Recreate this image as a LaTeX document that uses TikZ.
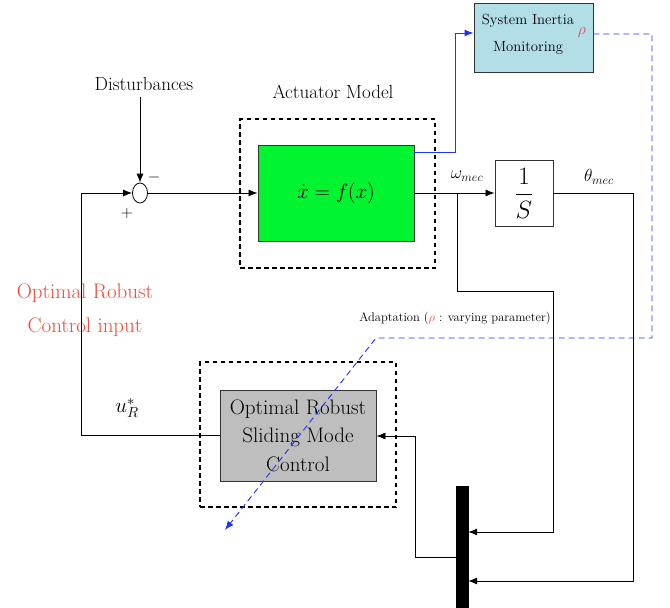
\RequirePackage{fix-cm}
\documentclass[tikz,border=0pt]{standalone}
\usetikzlibrary{arrows.meta,shapes.geometric}
\definecolor{actgreen}{RGB}{0,245,48}
\definecolor{monblue}{RGB}{178,222,232}
\definecolor{smcgray}{RGB}{190,190,190}
\definecolor{linkblue}{RGB}{30,50,255}
\definecolor{redtxt}{RGB}{240,74,58}
\tikzset{
  arr/.style={-{Latex[length=9pt,width=7pt]}, line width=0.8pt},
  blockbox/.style={draw=black!80, line width=0.9pt, inner sep=0pt, align=center},
  dashframe/.style={draw, line width=2.2pt, dash pattern=on 4.5pt off 3.5pt},
  bluelink/.style={draw=linkblue, line width=0.9pt},
  bluedash/.style={draw=linkblue, line width=0.9pt, dash pattern=on 6pt off 4pt},
  lbl/.style={inner sep=0pt, align=center}
}
\begin{document}
\begin{tikzpicture}[x=1pt,y=-1pt]
\useasboundingbox (0,0) rectangle (670,608);
% frames
\node[dashframe, minimum width=195pt, minimum height=149pt] (actframe) at (337.5,193.5) {};
\node[dashframe, minimum width=196pt, minimum height=145pt] (smcframe) at (298,434.5) {};
% blocks
\node[blockbox, fill=actgreen, minimum width=156pt, minimum height=96pt, font=\fontsize{21}{24}\selectfont] (act) at (336,193) {$\dot{x} = f(x)$};
\node[blockbox, fill=white, minimum width=58pt, minimum height=66pt, font=\fontsize{25}{28}\selectfont] (integ) at (524,193) {$\displaystyle\frac{1}{S}$};
\node[blockbox, fill=monblue, minimum width=119pt, minimum height=69pt] (sim) at (533.5,37.5) {};
\node[lbl, font=\fontsize{14.7}{16}\selectfont] (simtxt1) at (528,21) {System Inertia};
\node[lbl, font=\fontsize{14.7}{16}\selectfont] (simtxt2) at (528,48) {Monitoring};
\node[lbl, text=redtxt, font=\fontsize{16}{18}\selectfont] (rho) at (582,33) {$\rho$};
\node[blockbox, fill=smcgray, minimum width=156pt, minimum height=91pt, font=\fontsize{21}{28.5}\selectfont] (smc) at (298,435.5) {Optimal Robust\\Sliding Mode\\Control};
\node[draw, fill=black, minimum width=12pt, minimum height=122pt, inner sep=0pt] (bar) at (462,547) {};
\node[ellipse, draw, line width=0.8pt, minimum width=15pt, minimum height=20pt, inner sep=0pt] (sum) at (140,193) {};
% labels
\node[lbl, font=\fontsize{19}{21}\selectfont] (dist) at (144,84) {Disturbances};
\node[lbl, font=\fontsize{19}{21}\selectfont] (actlbl) at (333,92) {Actuator Model};
\node[lbl, font=\fontsize{16}{18}\selectfont] (minus) at (154,177) {$-$};
\node[lbl, font=\fontsize{16}{18}\selectfont] (plus) at (127,213) {$+$};
\node[lbl, font=\fontsize{17.5}{19}\selectfont] (omega) at (467,176) {$\omega_{mec}$};
\node[lbl, font=\fontsize{17.5}{19}\selectfont] (theta) at (599,177) {$\theta_{mec}$};
\node[lbl, font=\fontsize{21}{23}\selectfont] (ur) at (127,408) {$u_R^{*}$};
\node[lbl, text=redtxt, font=\fontsize{21}{34}\selectfont] (orci) at (85,310) {Optimal Robust\\Control input};
\node[lbl, font=\fontsize{12.5}{14}\selectfont] (adapt) at (455,318) {Adaptation (\textcolor{redtxt}{$\rho$} : varying parameter)};
% coordinates
\coordinate (branch) at (457,193);
\coordinate (bluestart) at (414,152);
\coordinate (dashend) at (225,530);
% connectors
\draw[arr] (sum |- dist.south) ++(0,6) -- (sum.north);
\draw[arr] (sum.east) -- (act.west);
\draw[arr] (act.east) -- (integ.west);
\draw[arr] (branch) -- (457,291) -| (553,532) -- (bar.east |- 0,532);
\draw[arr] (integ.east) -| (633,581) -- (bar.east |- 0,581);
\draw[arr] (bar.west |- 0,557) -| (415,436) -- (smc.east |- 0,436);
\draw[arr] (smc.west) -| (81,193) -- (sum.west);
\draw[bluelink, -{Latex[length=9pt,width=7pt]}] (bluestart) -| (455,33) -- (sim.west |- 0,33);
\draw[bluedash, -{Latex[length=9pt,width=7pt]}] (sim.east |- 0,34) -| (652,338) -- (376,338) -- (dashend);
\end{tikzpicture}
\end{document}
